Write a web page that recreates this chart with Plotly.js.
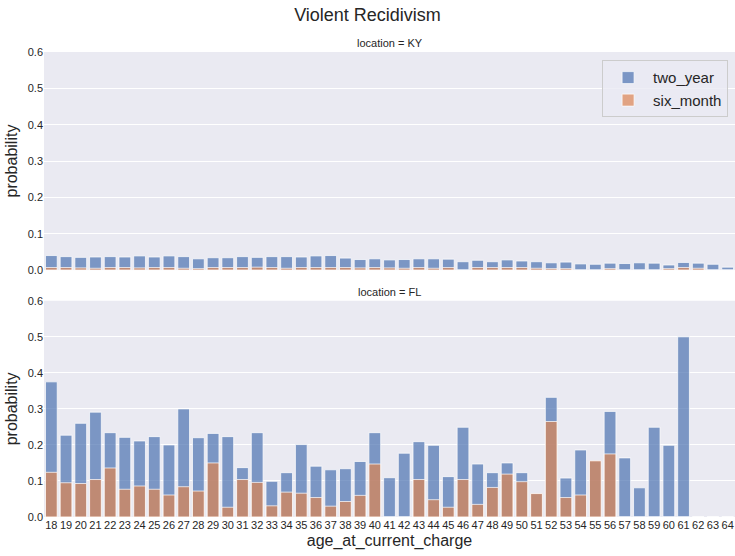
<!DOCTYPE html>
<html>
<head>
<meta charset="utf-8">
<script src="https://cdn.plot.ly/plotly-3.0.1.min.js"></script>
<style>html,body{margin:0;padding:0;background:#fff}#chart{width:735px;height:556px}</style>
</head>
<body>
<div id="chart"></div>
<script>
const ages = [];
for (let a = 18; a <= 64; a++) ages.push(String(a));

const kyTwoYear = [0.040,0.037,0.035,0.036,0.037,0.036,0.039,0.036,0.039,0.037,0.031,0.034,0.034,0.037,0.035,0.037,0.037,0.036,0.039,0.040,0.033,0.029,0.031,0.028,0.029,0.031,0.031,0.030,0.023,0.027,0.023,0.028,0.025,0.023,0.020,0.022,0.017,0.016,0.019,0.018,0.020,0.019,0.014,0.021,0.019,0.016,0.008];
const kySixMonth = [0.007,0.007,0.006,0.005,0.007,0.007,0.006,0.007,0.007,0.005,0.004,0.007,0.007,0.007,0.008,0.007,0.005,0.007,0.007,0.007,0.007,0.006,0.007,0.006,0.005,0.007,0.005,0.007,0.000,0.007,0.007,0.007,0.007,0.005,0.004,0.004,0.000,0.000,0.004,0.000,0.000,0.000,0.004,0.007,0.005,0.000,0.000];

const flTwoYear = [0.375,0.227,0.260,0.291,0.234,0.221,0.211,0.223,0.200,0.300,0.220,0.232,0.223,0.137,0.234,0.099,0.123,0.201,0.141,0.131,0.134,0.154,0.234,0.109,0.177,0.209,0.199,0.112,0.249,0.147,0.123,0.150,0.123,0.065,0.332,0.108,0.186,0.156,0.293,0.164,0.081,0.249,0.199,0.500,0,0,0];
const flSixMonth = [0.124,0.095,0.093,0.104,0.136,0.077,0.086,0.077,0.061,0.084,0.072,0.150,0.027,0.104,0.096,0.031,0.069,0.066,0.054,0.030,0.043,0.060,0.147,0,0,0.104,0.048,0.027,0.104,0.035,0.082,0.119,0.098,0.065,0.265,0.054,0.061,0.156,0.175,0,0,0,0,0,0,0,0];

const blue = 'rgba(76,114,176,0.7)', orange = 'rgba(221,132,82,0.7)';
const FONT = 'Liberation Sans, Arial, sans-serif';
const edge = {color: 'rgba(255,255,255,0.9)', width: 0.8};

const traces = [
  {type:'bar', x: ages, y: kyTwoYear, name:'two_year', xaxis:'x2', yaxis:'y2',
   marker:{color: blue, line: edge}, width:0.8, legendgroup:'a'},
  {type:'bar', x: ages, y: kySixMonth, name:'six_month', xaxis:'x2', yaxis:'y2',
   marker:{color: orange, line: edge}, width:0.8, legendgroup:'b'},
  {type:'bar', x: ages, y: flTwoYear, name:'two_year', xaxis:'x', yaxis:'y',
   marker:{color: blue, line: edge}, width:0.8, showlegend:false, legendgroup:'a'},
  {type:'bar', x: ages, y: flSixMonth, name:'six_month', xaxis:'x', yaxis:'y',
   marker:{color: orange, line: edge}, width:0.8, showlegend:false, legendgroup:'b'}
];

const yCommon = {range:[0,0.6], tickvals:[0,0.1,0.2,0.3,0.4,0.5,0.6], ticktext:['0.0','0.1','0.2','0.3','0.4','0.5','0.6'],
  gridcolor:'#ffffff', gridwidth:1, zeroline:false, showline:false, ticks:'',
  tickfont:{family:FONT, size:11, color:'#262626'}, ticklen:0,
  title:{text:'probability', font:{family:FONT, size:16, color:'#262626'}, standoff:6}};

const layout = {
  width:735, height:556,
  margin:{l:44, r:0, t:52, b:39},
  paper_bgcolor:'#ffffff', plot_bgcolor:'#eaeaf2',
  barmode:'overlay', bargap:0.2,
  font:{family:FONT, color:'#262626'},
  title:{text:'Violent Recidivism', font:{family:FONT, size:18, color:'#262626'}, x:0.5, xanchor:'center', y:0.985, yanchor:'top'},
  xaxis:{type:'category', range:[-0.5,46.5], domain:[0,1], anchor:'y', showgrid:false, zeroline:false, ticks:'',
    tickfont:{family:FONT, size:11, color:'#262626'}, tickangle:0,
    title:{text:'age_at_current_charge', font:{family:FONT, size:16, color:'#262626'}, standoff:4}},
  xaxis2:{type:'category', range:[-0.5,46.5], domain:[0,1], anchor:'y2', matches:'x', showgrid:false, zeroline:false, showticklabels:false, ticks:''},
  yaxis: Object.assign({}, yCommon, {domain:[0,0.465], anchor:'x'}),
  yaxis2: Object.assign({}, yCommon, {domain:[0.531,1], anchor:'x2'}),
  legend:{x:0.99, xanchor:'right', y:0.982, yanchor:'top', bgcolor:'rgba(234,234,242,0.8)', bordercolor:'#cccccc', borderwidth:1,
    font:{family:FONT, size:15, color:'#262626'}, traceorder:'normal', itemwidth:40},
  annotations:[
    {text:'location = KY', xref:'paper', yref:'paper', x:0.5, y:1, yanchor:'bottom', xanchor:'center', showarrow:false, yshift:1,
     font:{family:FONT, size:11, color:'#262626'}},
    {text:'location = FL', xref:'paper', yref:'paper', x:0.5, y:0.465, yanchor:'bottom', xanchor:'center', showarrow:false, yshift:1,
     font:{family:FONT, size:11, color:'#262626'}}
  ]
};

Plotly.newPlot('chart', traces, layout, {displayModeBar:false, staticPlot:true});
</script>
</body>
</html>
